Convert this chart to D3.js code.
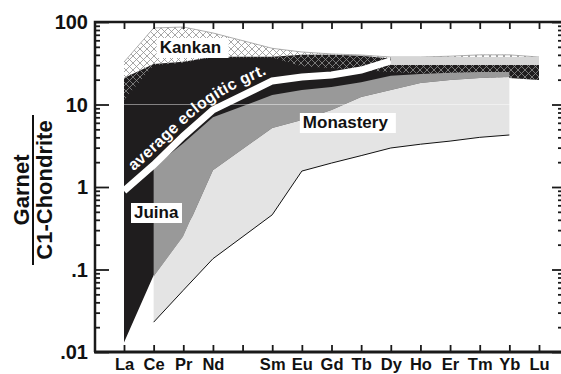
<!DOCTYPE html>
<html>
<head>
<meta charset="utf-8">
<script src="https://cdn.jsdelivr.net/npm/d3@7"></script>
<style>
  body { margin: 0; background: #fff; }
  svg text { font-family: "Liberation Sans", Arial, Helvetica, sans-serif; font-weight: bold; }
</style>
</head>
<body>
<svg id="chart" width="561" height="374"></svg>
<script>
// REE, Pm has a tick but no label and no data
var elements = ["La", "Ce", "Pr", "Nd", "Pm", "Sm", "Eu", "Gd", "Tb", "Dy", "Ho", "Er", "Tm", "Yb", "Lu"]
var elementLabels = ["La", "Ce", "Pr", "Nd", "", "Sm", "Eu", "Gd", "Tb", "Dy", "Ho", "Er", "Tm", "Yb", "Lu"]
var yMajor = [0.01, 0.1, 1, 10, 100]
var yMajorLabels = [".01", ".1", "1", "10", "100"]

// field boundaries, garnet / C1 chondrite (null = no vertex)
var kankanTop    = [32.7, 84.6, 87, 73.6, null, 48, 43.3, 41, 39.8, 37.6, 37.6, 38.5, 40, 40, 37.6]
var kankanBottom = [11.3, 30, 32, 37, null, 37, 29, 27.7, 26, 24.8, 23.8, 22.8, 21.5, 20.9, 19.8]
var juinaTop     = [21, 31, 33, 38, null, 38, 40, 40, 39, 36, 34, 33, 33, 33, 33]
var juinaBottom  = [0.013, 0.085, 0.3, 1, null, 3, 5, 7, 9, 11, 13, 15, 17, 20.9, 19.8]
var monDarkTop   = [null, 1.75, 3.4, 7.0, null, 13, 15, 16.3, 18.6, 22.3, 23.5, 24.2, 24.8, 24.8, null]
var monLightTop  = [null, 0.081, 0.25, 1.6, null, 5.2, 6.5, 8.6, 12.3, 15, 18.2, 19.8, 20.9, 21.5, null]
var monLightLow  = [null, 0.023, 0.056, 0.135, null, 0.46, 1.56, 1.95, 2.4, 2.97, 3.3, 3.6, 4.0, 4.27, null]
var eclogiteAvg  = [0.9, 1.85, 4.15, 8.6, null, 19.3, 21.5, 22.8, 26.2, 33.7, 33.7, 33.7, 33.7, 33.7, 33.7]

var svg = d3.select("#chart")

var dims = { left: 95, right: 561, top: 22, bottom: 352 }

var x = d3.scalePoint()
  .domain(elements)
  .range([124, 539])

var y = d3.scaleLog()
  .domain([0.01, 100])
  .range([dims.bottom, dims.top])

function pts(vals){
  var out = []
  vals.forEach(function(v, i){ if(v != null) out.push([x(elements[i]), y(v)]) })
  return out
}
function field(top, low){
  return d3.line()(pts(top).concat(pts(low).reverse())) + "Z"
}

var defs = svg.append("defs")
defs.append("pattern")
  .attr("id", "hatch")
  .attr("patternUnits", "userSpaceOnUse")
  .attr("width", 7).attr("height", 7)
  .append("path")
    .attr("d", "M0,0L7,7M7,0L0,7")
    .attr("stroke", "#8f8f8f")
    .attr("stroke-width", 0.8)

// Juina (black)
svg.append("path")
  .attr("d", field(juinaTop, juinaBottom))
  .attr("fill", "#1f1d1e")

// Kankan (crosshatch over everything behind)
svg.append("path")
  .attr("d", field(kankanTop, kankanBottom))
  .attr("fill", "url(#hatch)")
svg.append("path")
  .attr("d", d3.line()(pts(kankanTop)))
  .attr("fill", "none")
  .attr("stroke", "#9a9a9a")
  .attr("stroke-width", 0.8)

// Monastery fields
svg.append("path")
  .attr("d", field(monDarkTop, monLightTop))
  .attr("fill", "#999999")
svg.append("path")
  .attr("d", field(monLightTop, monLightLow))
  .attr("fill", "#e4e4e4")
svg.append("path")
  .attr("d", d3.line()(pts(monLightLow)))
  .attr("fill", "none")
  .attr("stroke", "#111")
  .attr("stroke-width", 1)

// average eclogitic garnet
var eclA = eclogiteAvg.map(function(v, i){ return i <= 9 ? v : null })
var eclB = eclogiteAvg.map(function(v, i){ return i >= 9 ? v : null })
svg.append("path")
  .attr("d", d3.line()(pts(eclA)))
  .attr("fill", "none")
  .attr("stroke", "#fff")
  .attr("stroke-width", 7)
svg.append("path")
  .attr("d", d3.line()(pts(eclB)))
  .attr("fill", "none")
  .attr("stroke", "#d6d6d6")
  .attr("stroke-width", 8)

// text path just above the line
var textPts = pts(eclogiteAvg.slice(0, 7)).map(function(p){ return [p[0], p[1] - 11] })
defs.append("path")
  .attr("id", "eclPath")
  .attr("d", d3.line().curve(d3.curveBasis)(textPts))
svg.append("text")
  .attr("fill", "#fff")
  .style("font-size", "16px")
  .append("textPath")
    .attr("href", "#eclPath")
    .attr("startOffset", 13)
    .attr("textLength", 166)
    .text("average eclogitic grt.")

// faint grid line at 10
svg.append("line")
  .attr("x1", dims.left).attr("x2", dims.right)
  .attr("y1", y(10)).attr("y2", y(10))
  .attr("stroke", "#fff")
  .attr("stroke-opacity", 0.45)
  .attr("stroke-width", 1)

// field labels
function label(txt, tx, ty, w){
  svg.append("rect")
    .attr("x", tx - 3).attr("y", ty - 15)
    .attr("width", w).attr("height", 20)
    .attr("fill", "#fff")
  svg.append("text")
    .attr("x", tx).attr("y", ty)
    .style("font-size", "17px")
    .attr("fill", "#111")
    .text(txt)
}
label("Kankan", x("Ce") + 6, 53, 72)
label("Monastery", x("Eu") + 1, 128, 96)
label("Juina", x("La") + 10, 218, 51)

// axes
var yTicks = y.ticks()
var yMinor = yTicks.filter(function(d){ return yMajor.indexOf(d) < 0 })

function styleAxis(g){
  g.select(".domain").remove()
  g.selectAll(".tick line").attr("stroke", "#1a1a1a").attr("stroke-width", 1.8)
}

svg.append("g")
  .attr("transform", `translate(0,${dims.bottom})`)
  .call(d3.axisBottom(x).tickSizeInner(-7).tickSizeOuter(0).tickPadding(6)
    .tickFormat(function(d, i){ return elementLabels[i] }))
  .call(styleAxis)
  .selectAll("text")
    .style("font-size", "16.5px")
    .attr("fill", "#111")

svg.append("g")
  .attr("transform", `translate(0,${dims.top})`)
  .call(d3.axisBottom(x).tickSizeInner(7).tickSizeOuter(0).tickFormat(""))
  .call(styleAxis)

svg.append("g")
  .attr("transform", `translate(${dims.left},0)`)
  .call(d3.axisRight(y).tickValues(yMinor).tickSize(5).tickFormat(""))
  .call(styleAxis)
svg.append("g")
  .attr("transform", `translate(${dims.left},0)`)
  .call(d3.axisRight(y).tickValues(yMajor).tickSize(14).tickFormat(""))
  .call(styleAxis)

svg.append("g")
  .attr("transform", `translate(${dims.right + 1},0)`)
  .call(d3.axisLeft(y).tickValues(yMinor).tickSize(4).tickFormat(""))
  .call(styleAxis)
svg.append("g")
  .attr("transform", `translate(${dims.right + 1},0)`)
  .call(d3.axisLeft(y).tickValues(yMajor).tickSize(10).tickFormat(""))
  .call(styleAxis)

svg.selectAll(".ylab")
  .data(yMajor)
  .enter()
  .append("text")
    .attr("x", 88)
    .attr("y", function(d){ return y(d) })
    .attr("dy", "0.36em")
    .attr("text-anchor", "end")
    .style("font-size", "20px")
    .attr("fill", "#111")
    .text(function(d, i){ return yMajorLabels[i] })

// frame
svg.append("path")
  .attr("d", `M${dims.right + 2},${dims.top}H${dims.left}V${dims.bottom}`)
  .attr("fill", "none")
  .attr("stroke", "#1a1a1a")
  .attr("stroke-width", 2.5)
svg.append("line")
  .attr("x1", dims.left - 1).attr("x2", dims.right)
  .attr("y1", dims.bottom).attr("y2", dims.bottom)
  .attr("stroke", "#1a1a1a")
  .attr("stroke-width", 3)

// y title as a fraction
var title = svg.append("g").attr("transform", "rotate(-90)")
title.append("text")
  .attr("x", -190).attr("y", 29)
  .attr("text-anchor", "middle")
  .style("font-size", "22px")
  .attr("fill", "#111")
  .text("Garnet")
title.append("text")
  .attr("x", -190).attr("y", 52)
  .attr("text-anchor", "middle")
  .style("font-size", "22px")
  .attr("fill", "#111")
  .text("C1-Chondrite")
svg.append("line")
  .attr("x1", 33).attr("x2", 33)
  .attr("y1", 115).attr("y2", 265)
  .attr("stroke", "#111")
  .attr("stroke-width", 2)
</script>
</body>
</html>
